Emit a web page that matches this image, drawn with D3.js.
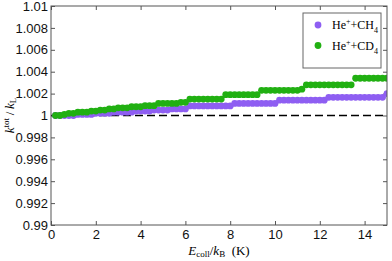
<!DOCTYPE html>
<meta charset="utf-8">
<style>
  body { margin: 0; background: white; }
  svg { font-family: "Liberation Serif", "DejaVu Serif", serif; }
  .axis path, .axis line { stroke: #555; }
  .axis text { font-size: 13px; fill: #111; }
</style>
<svg width="392" height="261"></svg>
<script src="https://d3js.org/d3.v7.min.js"></script>
<script>

// collision energy (K)
var energy = [0.2, 0.4, 0.6, 0.8, 1.0, 1.2, 1.4, 1.6, 1.8, 2.0,
              2.2, 2.4, 2.6, 2.8, 3.0, 3.2, 3.4, 3.6, 3.8, 4.0,
              4.2, 4.4, 4.6, 4.8, 5.0, 5.2, 5.4, 5.6, 5.8, 6.0,
              6.2, 6.4, 6.6, 6.8, 7.0, 7.2, 7.4, 7.6, 7.8, 8.0,
              8.2, 8.4, 8.6, 8.8, 9.0, 9.2, 9.4, 9.6, 9.8, 10.0,
              10.2, 10.4, 10.6, 10.8, 11.0, 11.2, 11.4, 11.6, 11.8, 12.0,
              12.2, 12.4, 12.6, 12.8, 13.0, 13.2, 13.4, 13.6, 13.8, 14.0,
              14.2, 14.4, 14.6, 14.8, 15.0];

var ratioCH4 = [1.0000, 1.0000, 1.0000, 1.0000, 1.0000, 1.0001, 1.0001, 1.0001, 1.0001, 1.0002,
                1.0002, 1.0002, 1.0002, 1.0003, 1.0003, 1.0003, 1.0003, 1.0003, 1.0004, 1.0004,
                1.0004, 1.0004, 1.0005, 1.0005, 1.0005, 1.0005, 1.0006, 1.0006, 1.0006, 1.0006,
                1.00087, 1.00087, 1.00087, 1.00087, 1.00087, 1.00087, 1.00087, 1.00087, 1.00087, 1.00087,
                1.0011, 1.0011, 1.0011, 1.0011, 1.0011, 1.0011, 1.0011, 1.0011, 1.0011, 1.0011,
                1.0014, 1.0014, 1.0014, 1.0014, 1.0014, 1.0014, 1.0014, 1.0014, 1.0014, 1.0014,
                1.0014, 1.00166, 1.00166, 1.00166, 1.00166, 1.00166, 1.00166, 1.00166, 1.00166, 1.00166,
                1.00166, 1.00166, 1.00166, 1.00166, 1.0020];

var ratioCD4 = [1.0000, 1.0000, 1.0001, 1.0002, 1.0002, 1.0003, 1.0003, 1.0003, 1.0004, 1.0004,
                1.0005, 1.0005, 1.0006, 1.0006, 1.0007, 1.0007, 1.0007, 1.0008, 1.0008, 1.0008,
                1.0009, 1.0009, 1.0009, 1.0011, 1.0011, 1.0011, 1.0011, 1.0011, 1.0012, 1.0012,
                1.0015, 1.0015, 1.0015, 1.0015, 1.0015, 1.0015, 1.0015, 1.0015, 1.0019, 1.0019,
                1.0019, 1.0019, 1.0019, 1.0019, 1.0019, 1.0019, 1.0023, 1.0023, 1.0023, 1.0023,
                1.0023, 1.0023, 1.0023, 1.0023, 1.0023, 1.0024, 1.0028, 1.0028, 1.0028, 1.0028,
                1.0028, 1.0028, 1.0028, 1.0028, 1.0028, 1.0028, 1.0028, 1.0034, 1.0034, 1.0034,
                1.0034, 1.0034, 1.0034, 1.0034, 1.0034];

var xTicks = [0, 2, 4, 6, 8, 10, 12, 14];
var yTicks = [0.99, 0.992, 0.994, 0.996, 0.998, 1, 1.002, 1.004, 1.006, 1.008, 1.01];
var yTickLabels = ["0.99", "0.992", "0.994", "0.996", "0.998", "1", "1.002", "1.004", "1.006", "1.008", "1.01"];

var purple = "#8e5ef2",
    green = "#21b012";

var svg = d3.select("svg"),
    margin = {top: 6, right: 5, bottom: 36, left: 51},
    width = +svg.attr("width") - margin.left - margin.right,
    height = +svg.attr("height") - margin.top - margin.bottom;

var x = d3.scaleLinear().domain([0, 15]).range([0, width]),
    y = d3.scaleLinear().domain([0.99, 1.01]).range([height, 0]);

var g = svg.append("g")
    .attr("transform", "translate(" + margin.left + "," + margin.top + ")");

// axes, ticks pointing inward on all four sides
g.append("g")
    .attr("class", "axis")
    .attr("transform", "translate(0," + height + ")")
    .call(d3.axisBottom(x).tickValues(xTicks).tickSizeInner(-4).tickSizeOuter(0).tickPadding(5))
    .call(function(a) { a.select(".domain").remove(); });

g.append("g")
    .attr("class", "axis")
    .call(d3.axisTop(x).tickValues(xTicks).tickSizeInner(-4).tickSizeOuter(0).tickFormat(""))
    .call(function(a) { a.select(".domain").remove(); });

g.append("g")
    .attr("class", "axis")
    .call(d3.axisLeft(y).tickValues(yTicks).tickSizeInner(-4).tickSizeOuter(0).tickPadding(3)
      .tickFormat(function(d, i) { return yTickLabels[i]; }))
    .call(function(a) { a.select(".domain").remove(); });

g.append("g")
    .attr("class", "axis")
    .attr("transform", "translate(" + width + ",0)")
    .call(d3.axisRight(y).tickValues(yTicks).tickSizeInner(-4).tickSizeOuter(0).tickFormat(""))
    .call(function(a) { a.select(".domain").remove(); });

// reference line at 1
g.append("line")
    .attr("x1", 0).attr("x2", width)
    .attr("y1", y(1)).attr("y2", y(1))
    .attr("stroke", "#000")
    .attr("stroke-width", 1.3)
    .attr("stroke-dasharray", "8,4");

g.append("clipPath").attr("id", "clip")
  .append("rect").attr("width", width).attr("height", height);

var dots = g.append("g").attr("clip-path", "url(#clip)");

dots.selectAll(".ch4")
  .data(energy)
  .enter().append("circle")
    .attr("class", "ch4")
    .attr("cx", function(d) { return x(d); })
    .attr("cy", function(d, i) { return y(ratioCH4[i]); })
    .attr("r", 3.4)
    .style("fill", purple);

dots.selectAll(".cd4")
  .data(energy)
  .enter().append("circle")
    .attr("class", "cd4")
    .attr("cx", function(d) { return x(d); })
    .attr("cy", function(d, i) { return y(ratioCD4[i]); })
    .attr("r", 3.4)
    .style("fill", green);

// frame
g.append("rect")
    .attr("width", width).attr("height", height)
    .attr("fill", "none")
    .attr("stroke", "#555");

// legend
var legend = svg.append("g").attr("transform", "translate(303,13)");
legend.append("rect")
    .attr("width", 78).attr("height", 55)
    .attr("fill", "white")
    .attr("stroke", "#666");

var entries = [{color: purple, mol: "CH"}, {color: green, mol: "CD"}];
entries.forEach(function(e, i) {
  var row = legend.append("g").attr("transform", "translate(0," + (12 + i * 20.5) + ")");
  row.append("circle").attr("cx", 15).attr("cy", 0).attr("r", 3.4).style("fill", e.color);
  var t = row.append("text").attr("x", 29).attr("y", 4).style("font-size", "12px");
  t.append("tspan").text("He");
  t.append("tspan").attr("dy", -5).style("font-size", "8px").text("+");
  t.append("tspan").attr("dy", 5).text("+" + e.mol);
  t.append("tspan").attr("dy", 4).style("font-size", "8px").text("4");
});

// axis labels
var xl = svg.append("text")
    .attr("x", margin.left + width / 2)
    .attr("y", 255)
    .attr("text-anchor", "middle")
    .style("font-size", "13px");
xl.append("tspan").style("font-style", "italic").text("E");
xl.append("tspan").attr("dy", 2).style("font-size", "9px").text("coll");
xl.append("tspan").attr("dy", -2).text("/");
xl.append("tspan").style("font-style", "italic").text("k");
xl.append("tspan").attr("dy", 2).style("font-size", "9px").text("B");
xl.append("tspan").attr("dy", -2).text("\u00a0\u00a0(K)");

var yl = svg.append("text")
    .attr("transform", "translate(14," + (margin.top + height / 2) + ") rotate(-90)")
    .attr("text-anchor", "middle")
    .style("font-size", "13px");
yl.append("tspan").style("font-style", "italic").text("k");
yl.append("tspan").attr("dy", -5).style("font-size", "9px").text("tot");
yl.append("tspan").attr("dy", 5).text("\u2009/\u2009");
yl.append("tspan").style("font-style", "italic").text("k");
yl.append("tspan").attr("dy", 2).style("font-size", "9px").text("L");

</script>
